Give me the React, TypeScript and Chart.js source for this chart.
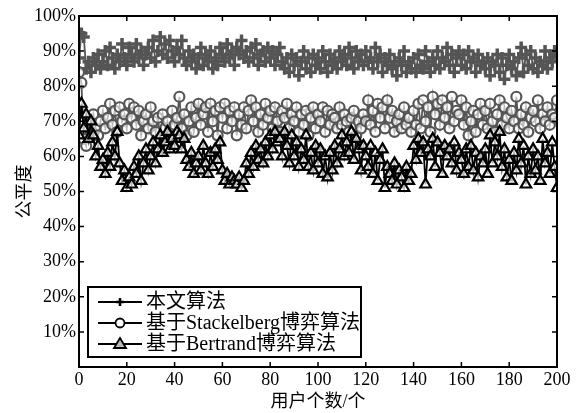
import React, { useEffect, useRef } from 'react';
import { Chart, registerables } from 'chart.js';

Chart.register(...registerables);

const seriesNames = ['本文算法', '基于Stackelberg博弈算法', '基于Bertrand博弈算法'];
const xTitle = '用户个数/个';
const yTitle = '公平度';

// 本文算法 (x = 0..200)
const ours = [
  88, 95, 94, 85, 87, 84, 88, 86, 89, 85,
  87, 90, 86, 91, 88, 85, 89, 87, 92, 88,
  86, 91, 89, 87, 92, 88, 90, 86, 89, 91,
  88, 93, 87, 90, 94, 89, 92, 88, 93, 90,
  87, 91, 89, 93, 88, 86, 90, 87, 89, 85,
  88, 91, 86, 89, 87, 90, 85, 88, 86, 91,
  89, 87, 92, 88, 90, 86, 91, 89, 93, 88,
  90, 87, 91, 88, 92, 86, 89, 90, 87, 91,
  88, 90, 86, 89, 91, 87, 85, 88, 84, 89,
  86, 88, 83, 87, 90, 85, 88, 84, 89, 86,
  88, 85, 90, 87, 84, 89, 86, 88, 85, 90,
  87, 89, 86, 91, 88, 85, 90, 87, 89, 86,
  90, 87, 88, 85, 91, 87, 89, 84, 88, 86,
  89, 85, 87, 83, 88, 86, 90, 84, 87, 85,
  88, 84, 89, 86, 85, 90, 87, 84, 88, 86,
  90, 85, 88, 87, 91, 86, 89, 84, 88, 90,
  86, 89, 85, 90, 87, 88, 84, 89, 86, 87,
  85, 88, 83, 87, 86, 89, 84, 88, 82, 86,
  89, 85, 87, 83, 88, 91, 84, 89, 86, 90,
  85, 88, 84, 87, 86, 90, 85, 88, 87, 90,
  89,
];

// 基于Stackelberg博弈算法
const stackelberg = [
  84, 81, 65, 63, 70, 67, 72, 68, 66, 70,
  73, 68, 71, 75, 69, 73, 67, 74, 70, 72,
  68, 75, 71, 74, 69, 73, 66, 70, 72, 68,
  74, 70, 67, 71, 65, 72, 68, 70, 66, 73,
  69, 71, 77, 68, 72, 66, 70, 74, 67, 71,
  75, 69, 72, 74, 67, 75, 70, 73, 66, 74,
  71, 75, 68, 73, 70, 74, 66, 72, 69, 74,
  68, 73, 76, 70, 74, 67, 72, 69, 75, 71,
  73, 68, 74, 70, 67, 73, 71, 75, 68, 72,
  70, 74, 67, 72, 69, 73, 66, 71, 74, 68,
  72, 70, 74, 67, 73, 69, 72, 71, 68, 74,
  69, 72, 70, 67, 71, 73, 66, 70, 68, 72,
  70, 76, 69, 73, 67, 75, 71, 74, 68, 76,
  71, 73, 67, 70, 72, 68, 74, 69, 71, 67,
  73, 69, 75, 68, 76, 70, 74, 67, 77, 72,
  75, 69, 76, 71, 74, 68, 77, 70, 73, 72,
  76, 69, 74, 66, 70, 73, 67, 72, 75, 69,
  73, 68, 75, 70, 67, 72, 76, 69, 74, 71,
  68, 73, 70, 77, 68, 72, 69, 74, 67, 71,
  73, 70, 76, 68, 72, 70, 74, 69, 72, 71,
  76,
];

// 基于Bertrand博弈算法
const bertrand = [
  66, 75, 68, 72, 65, 70, 66, 60, 63, 57,
  59, 55, 61, 57, 64, 60, 67, 58, 53, 56,
  51, 54, 52, 57, 55, 60, 53, 58, 62, 56,
  60, 64, 58, 62, 66, 61, 64, 67, 62, 65,
  63, 67, 66, 62, 65, 59, 57, 61, 55, 58,
  60, 56, 63, 58, 55, 61, 57, 62, 59, 64,
  56, 53, 55, 52, 54, 53, 52, 54, 51, 53,
  58, 55, 61, 57, 63, 59, 62, 58, 64, 60,
  66, 62, 67, 64, 65, 60, 67, 63, 58, 66,
  60, 64, 57, 62, 59, 66, 57, 61, 56, 63,
  58, 62, 55, 60, 54, 61, 56, 63, 58, 62,
  66, 60, 64, 61, 67, 59, 65, 62, 56, 63,
  60, 57, 63, 55, 61, 53, 59, 62, 51, 57,
  55, 53, 58, 52, 56, 54, 51, 57, 53, 55,
  63, 59, 65, 61, 64, 52, 62, 60, 65, 57,
  64, 61, 55, 63, 60, 62, 58, 64, 56, 61,
  59, 55, 62, 57, 63, 56, 61, 54, 60, 58,
  62, 55, 66, 58, 64, 60, 67, 57, 62, 54,
  59, 53, 61, 56, 65, 58, 63, 52, 60, 55,
  62, 56, 60, 53, 65, 58, 61, 55, 64, 57,
  51,
];

const xMin = 0;
const xMax = 200;
const xStep = 20;
const yMin = 0;
const yMax = 100;
const yStep = 10;

const FONT = "'Liberation Serif', 'Noto Sans CJK SC', serif";
const GRAY = '#555555';

Chart.defaults.font.family = FONT;
Chart.defaults.font.size = 18;
Chart.defaults.color = '#000';

const toPoints = (arr: number[]) => arr.map((v, i) => ({ x: i, y: v }));

const framePlugin = {
  id: 'frame',
  afterDatasetsDraw(chart: any) {
    const { ctx, chartArea } = chart;
    const { left, right, top, bottom } = chartArea;
    const xs = chart.scales.x;
    const ys = chart.scales.y;
    ctx.save();
    ctx.strokeStyle = '#000';
    ctx.lineWidth = 2;
    ctx.strokeRect(left, top, right - left, bottom - top);
    ctx.lineWidth = 1.5;
    const tl = 5;
    ctx.beginPath();
    for (let v = yMin + yStep; v < yMax; v += yStep) {
      const y = ys.getPixelForValue(v);
      ctx.moveTo(left, y); ctx.lineTo(left + tl, y);
      ctx.moveTo(right, y); ctx.lineTo(right - tl, y);
    }
    for (let v = xMin + xStep; v < xMax; v += xStep) {
      const x = xs.getPixelForValue(v);
      ctx.moveTo(x, bottom); ctx.lineTo(x, bottom - tl);
      ctx.moveTo(x, top); ctx.lineTo(x, top + tl);
    }
    ctx.stroke();

    // legend box
    const bx = 88, by = 287, bw = 273, bh = 70;
    ctx.fillStyle = '#fff';
    ctx.fillRect(bx, by, bw, bh);
    ctx.lineWidth = 2;
    ctx.strokeRect(bx, by, bw, bh);
    const rows = [302, 323, 344];
    const lx0 = 98, lx1 = 142, mx = 120;
    ctx.font = '20px ' + FONT;
    ctx.textBaseline = 'middle';
    ctx.textAlign = 'left';
    seriesNames.forEach((name, i) => {
      const y = rows[i];
      ctx.strokeStyle = '#000';
      ctx.lineWidth = 2;
      ctx.beginPath();
      ctx.moveTo(lx0, y); ctx.lineTo(lx1, y);
      ctx.stroke();
      ctx.beginPath();
      if (i === 0) {
        ctx.lineWidth = 2.5;
        ctx.moveTo(mx - 4, y); ctx.lineTo(mx + 4, y);
        ctx.moveTo(mx, y - 4); ctx.lineTo(mx, y + 4);
        ctx.stroke();
      } else if (i === 1) {
        ctx.lineWidth = 1.8;
        ctx.fillStyle = '#fff';
        ctx.arc(mx, y, 4.5, 0, Math.PI * 2);
        ctx.fill();
        ctx.stroke();
      } else {
        ctx.lineWidth = 1.8;
        ctx.fillStyle = '#bbb';
        ctx.moveTo(mx, y - 6);
        ctx.lineTo(mx + 6, y + 4);
        ctx.lineTo(mx - 6, y + 4);
        ctx.closePath();
        ctx.fill();
        ctx.stroke();
      }
      ctx.fillStyle = '#000';
      ctx.fillText(name, 146, y + 1);
    });
    ctx.restore();
  },
};

export default function App() {
  const ref = useRef<HTMLCanvasElement | null>(null);
  useEffect(() => {
    if (!ref.current) return;
    const chart = new Chart(ref.current, {
      type: 'line',
      data: {
        datasets: [
          {
            label: seriesNames[0],
            data: toPoints(ours),
            borderColor: GRAY,
            backgroundColor: GRAY,
            borderWidth: 1.8,
            pointStyle: 'cross',
            pointRadius: 6,
            pointBorderWidth: 3.5,
            pointBorderColor: GRAY,
            order: 3,
          },
          {
            label: seriesNames[1],
            data: toPoints(stackelberg),
            borderColor: GRAY,
            backgroundColor: '#fff',
            borderWidth: 1.8,
            pointStyle: 'circle',
            pointRadius: 5,
            pointBorderWidth: 2.2,
            pointBorderColor: GRAY,
            pointBackgroundColor: 'rgba(255,255,255,0.6)',
            order: 2,
          },
          {
            label: seriesNames[2],
            data: toPoints(bertrand),
            borderColor: '#000',
            backgroundColor: '#fff',
            borderWidth: 1.8,
            pointStyle: 'triangle',
            pointRadius: 6,
            pointBorderWidth: 2.2,
            pointBorderColor: '#000',
            pointBackgroundColor: 'rgba(255,255,255,0.7)',
            order: 1,
          },
        ],
      },
      options: {
        responsive: false,
        animation: false,
        devicePixelRatio: 1,
        layout: { padding: { top: 16, right: 23, left: 0, bottom: 0 } },
        plugins: { legend: { display: false }, tooltip: { enabled: false } },
        scales: {
          x: {
            type: 'linear',
            min: xMin,
            max: xMax,
            grid: { display: false, drawTicks: false },
            border: { display: false },
            ticks: {
              stepSize: xStep,
              color: '#000',
              font: { size: 18 },
              padding: 2,
              maxRotation: 0,
            },
            title: {
              display: true,
              text: xTitle,
              color: '#000',
              font: { size: 18 },
              padding: { top: 0, bottom: 0 },
            },
            afterFit: (s: any) => { s.height = 46; },
          },
          y: {
            type: 'linear',
            min: yMin,
            max: yMax,
            grid: { display: false, drawTicks: false },
            border: { display: false },
            ticks: {
              stepSize: yStep,
              color: '#000',
              font: { size: 18 },
              padding: 3,
              callback: (v: any) => (v === 0 ? '' : v + '%'),
            },
            title: {
              display: true,
              text: yTitle,
              color: '#000',
              font: { size: 18 },
              padding: { top: 14, bottom: 0 },
            },
            afterFit: (s: any) => { s.width = 79; },
          },
        },
      },
      plugins: [framePlugin],
    });
    return () => chart.destroy();
  }, []);
  return (
    <div style={{ position: 'fixed', left: 0, top: 0, width: 580, height: 413, background: '#fff' }}>
      <canvas ref={ref} width={580} height={413} style={{ width: 580, height: 413, display: 'block' }} />
    </div>
  );
}
